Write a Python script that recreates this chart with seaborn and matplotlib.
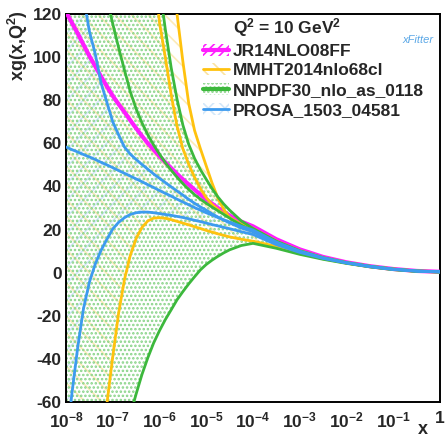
import math
import matplotlib
matplotlib.use("Agg")
import matplotlib.pyplot as plt
import seaborn as sns
from matplotlib.lines import Line2D
from matplotlib.patches import Patch
from matplotlib.ticker import FixedLocator, FuncFormatter, NullFormatter, MultipleLocator, LogLocator

# ---------------- data ----------------
x = [1e-8, 1.33e-8, 1.78e-8, 2.37e-8, 3.16e-8, 4.22e-8, 5.62e-8, 7.5e-8,
     1e-7, 1.33e-7, 1.78e-7, 2.37e-7, 3.16e-7, 4.22e-7, 5.62e-7, 7.5e-7,
     1e-6, 1.33e-6, 1.78e-6, 2.37e-6, 3.16e-6, 4.22e-6, 5.62e-6, 7.5e-6,
     1e-5, 1.33e-5, 1.78e-5, 2.37e-5, 3.16e-5, 5.62e-5,
     1e-4, 3.16e-4, 1e-3, 3.16e-3, 1e-2, 3.16e-2, 1e-1, 3.16e-1, 1.0]

jr14 = [121, 116, 111, 105.7, 100.5, 95.7, 91, 86.4,
        82, 78.2, 74.5, 70.7, 67, 63.4, 60, 57,
        54, 51.2, 48.5, 45.8, 43.3, 40.9, 38.5, 36.2,
        34, 32, 30, 28.2, 26.5, 23.7,
        21.5, 15.5, 10.8, 7.3, 4.8, 3.0, 1.7, 0.8, 0.4]

mmht_c = [1920, 1730, 1550, 1380, 1220, 1070, 930, 800,
          680, 570, 470, 380, 300, 230, 180, 143,
          116, 100, 82.5, 68, 57.5, 50.2, 44.3, 39,
          34.8, 31.6, 29.3, 27.3, 25.4, 22,
          19.2, 14.0, 9.8, 6.8, 4.6, 2.9, 1.6, 0.7, 0.35]
mmht_up = [2580, 2360, 2150, 1950, 1760, 1580, 1410, 1250,
           1100, 960, 830, 710, 600, 500, 410, 330,
           260, 200, 160, 120, 98, 78.5, 66, 57.5,
           49.5, 41.6, 34.5, 29.3, 25.6, 22.5,
           20.5, 14.6, 10.2, 7.0, 4.7, 3.0, 1.7, 0.8, 0.45]
mmht_lo = [-370, -310, -255, -205, -160, -120, -86, -60.8,
           -39, -19, -3.2, 8, 15.8, 21, 24, 25.3,
           25.5, 25.2, 24.6, 23.8, 23, 22.2, 21.3, 20.5,
           19.6, 18.8, 18, 17.3, 16.6, 15.5,
           14.6, 12.2, 9.0, 6.4, 4.4, 2.75, 1.45, 0.65, 0.3]

nnpdf_c = [330, 290, 255, 222, 192, 165, 140, 127,
           115.5, 104.5, 94, 84, 76, 69.5, 64, 59.2,
           55, 51, 47.5, 44.3, 41.3, 38.6, 36.2, 34.1,
           32.2, 30.4, 28.7, 27, 25.3, 22,
           19.3, 14.0, 9.8, 6.7, 4.5, 2.8, 1.55, 0.7, 0.35]
nnpdf_up = [1500, 1370, 1250, 1130, 1020, 920, 820, 730,
            640, 560, 480, 400, 330, 260, 210, 170,
            133, 113, 95, 80.5, 68.5, 59.5, 53, 47.8,
            43.3, 39, 35.1, 31.8, 29, 24,
            20.5, 14.6, 10.2, 7.0, 4.7, 3.0, 1.7, 0.8, 0.45]
nnpdf_lo = [-200, -185, -171, -158, -145, -133, -121, -110,
            -99, -88, -77, -66, -56.3, -47.2, -39.5, -32.6,
            -26.9, -21.8, -17.2, -12.6, -8.8, -5.2, -1.9, 1.3,
            3.8, 5.8, 7.6, 9.2, 10.6, 12.6,
            13.6, 11.3, 8.5, 6.2, 4.3, 2.7, 1.4, 0.6, 0.3]

prosa_c = [58.3, 57.1, 56, 54.8, 53.7, 52.5, 51.2, 50,
           48.7, 47.4, 46.1, 44.8, 43.5, 42.2, 40.8, 39.5,
           38.1, 36.8, 35.5, 34.1, 32.8, 31.5, 30.2, 29,
           27.8, 26.7, 25.6, 24.5, 23.5, 21.5,
           19.8, 14.2, 10.0, 6.9, 4.6, 2.9, 1.6, 0.75, 0.4]
prosa_up = [260, 210, 170, 128, 112, 101.5, 88, 79,
            70, 64, 58.3, 55, 52.5, 50.2, 48, 45.8,
            43.8, 41.8, 39.8, 37.9, 36, 34, 32.2, 30.5,
            29, 27.3, 25.8, 24.4, 23.1, 20.7,
            19, 13.8, 9.8, 6.8, 4.6, 2.9, 1.6, 0.75, 0.4]
prosa_lo = [-82, -56.5, -34.7, -16.6, -4.5, 4, 10.3, 15.5,
            20.3, 23.3, 25.5, 27, 27.8, 28.1, 28.1, 27.8,
            27.4, 27, 26.6, 26.1, 25.6, 25, 24.3, 23.7,
            23, 22.3, 21.7, 21, 20.4, 19,
            17.7, 13.0, 9.4, 6.6, 4.5, 2.8, 1.5, 0.7, 0.35]

labels = ["JR14NLO08FF", "MMHT2014nlo68cl", "NNPDF30_nlo_as_0118", "PROSA_1503_04581"]
x_ticks = [1e-8, 1e-7, 1e-6, 1e-5, 1e-4, 1e-3, 1e-2, 1e-1, 1]
y_ticks = [-60, -40, -20, 0, 20, 40, 60, 80, 100, 120]

# ---------------- style ----------------
sns.set_theme(style="white")
plt.rcParams["font.family"] = ["Liberation Sans", "DejaVu Sans"]
plt.rcParams["font.weight"] = "bold"
plt.rcParams["mathtext.fontset"] = "custom"
plt.rcParams["mathtext.rm"] = "Liberation Sans:bold"
plt.rcParams["mathtext.bf"] = "Liberation Sans:bold"
plt.rcParams["mathtext.it"] = "Liberation Sans:bold:italic"
plt.rcParams["axes.unicode_minus"] = False
plt.rcParams["hatch.linewidth"] = 1.2

C_MAG = "#ff1dff"
C_YEL = "#ffc20e"
C_GRN = "#3cb83c"
C_BLU = "#3d9bef"
H_GRN = "#86d386"
H_BLU = "#d3e7f9"
H_YEL = "#fcebb8"

fig = plt.figure(figsize=(4.47, 4.37), dpi=100)
ax = fig.add_axes([66 / 447, 1 - 402 / 437, 374 / 447, 388 / 437])
ax.set_xscale("log")

# bands
ax.fill_between(x, prosa_lo, prosa_up, facecolor="none", edgecolor=H_BLU,
                hatch="xx", linewidth=0, zorder=1)
ax.fill_between(x, mmht_lo, mmht_up, facecolor="none", edgecolor=H_YEL,
                hatch="\\\\", linewidth=0, zorder=1)
ax.fill_between(x, nnpdf_lo, nnpdf_up, facecolor="none", edgecolor=H_GRN,
                hatch="....", linewidth=0, zorder=2)

lw = 2.0
sns.lineplot(x=x, y=jr14, ax=ax, color=C_MAG, lw=3.0, sort=False, estimator=None, zorder=4)
for ys in (mmht_c, mmht_up, mmht_lo):
    sns.lineplot(x=x, y=ys, ax=ax, color=C_YEL, lw=lw, sort=False, estimator=None, zorder=5)
for ys in (nnpdf_c, nnpdf_up, nnpdf_lo):
    sns.lineplot(x=x, y=ys, ax=ax, color=C_GRN, lw=lw, sort=False, estimator=None, zorder=6)
for ys in (prosa_c, prosa_up, prosa_lo):
    sns.lineplot(x=x, y=ys, ax=ax, color=C_BLU, lw=lw, sort=False, estimator=None, zorder=7)

ax.set_xlim(1e-8, 1)
ax.set_ylim(-60, 120)

# ticks
def fmt_x(v, pos):
    if abs(v - 1) < 1e-12:
        return r"$\mathbf{1}$"
    e = int(round(math.log10(v)))
    return r"$\mathbf{10^{%d}}$" % e

ax.xaxis.set_major_locator(FixedLocator(x_ticks))
ax.xaxis.set_major_formatter(FuncFormatter(fmt_x))
ax.xaxis.set_minor_locator(LogLocator(base=10, subs=range(2, 10), numticks=20))
ax.xaxis.set_minor_formatter(NullFormatter())
ax.yaxis.set_major_locator(FixedLocator(y_ticks))
ax.yaxis.set_minor_locator(MultipleLocator(4))
ax.tick_params(axis="both", which="both", direction="in", top=False, right=False,
               color="black", width=1.3, labelsize=12.5)
ax.tick_params(axis="x", which="major", length=9, pad=6)
ax.tick_params(axis="x", which="minor", length=4.5)
ax.tick_params(axis="y", which="major", length=12, pad=3)
ax.tick_params(axis="y", which="minor", length=6)
for lab in ax.get_yticklabels():
    lab.set_fontweight("bold")
for s in ax.spines.values():
    s.set_color("black")
    s.set_linewidth(1.4)
ax.set_xlabel("")
ax.set_ylabel("")

fig.text(18 / 447, 1 - 46 / 437, r"xg(x,Q$^{\mathbf{2}}$)", rotation=90, ha="center",
         va="center", fontsize=13, fontweight="bold")
fig.text(423 / 447, 1 - 430 / 437, "x", ha="center", va="center", fontsize=13,
         fontweight="bold")

# legend
handles = [
    Line2D([], [], lw=0),
    (Patch(facecolor="none", edgecolor=C_MAG, hatch="////", lw=0), Line2D([], [], color=C_MAG, lw=3.0)),
    (Patch(facecolor="none", edgecolor="#fbe3a0", hatch="\\\\", lw=0), Line2D([], [], color=C_YEL, lw=lw)),
    (Patch(facecolor="none", edgecolor=H_GRN, hatch="....", lw=0), Line2D([], [], color=C_GRN, lw=lw + 1)),
    (Patch(facecolor="none", edgecolor=H_BLU, hatch="xx", lw=0), Line2D([], [], color=C_BLU, lw=lw)),
]
texts = [r"$\mathbf{Q^{2}}$ = 10 GeV$^{\mathbf{2}}$"] + labels
leg = ax.legend(handles, texts, loc="upper left", bbox_to_anchor=(198 / 447, 1 - 11 / 437),
                bbox_transform=fig.transFigure, frameon=False,
                handlelength=1.5, handletextpad=0.2, labelspacing=0.26,
                borderaxespad=0, borderpad=0.3, prop={"weight": "bold", "size": 12.5})
leg.set_zorder(10)

fig.text(418 / 447, 1 - 40 / 437, "xFitter", ha="center", va="center", fontsize=8,
         style="italic", color="#5aa7e6", fontweight="normal")

fig.savefig("out.png", dpi=100, facecolor="white")
